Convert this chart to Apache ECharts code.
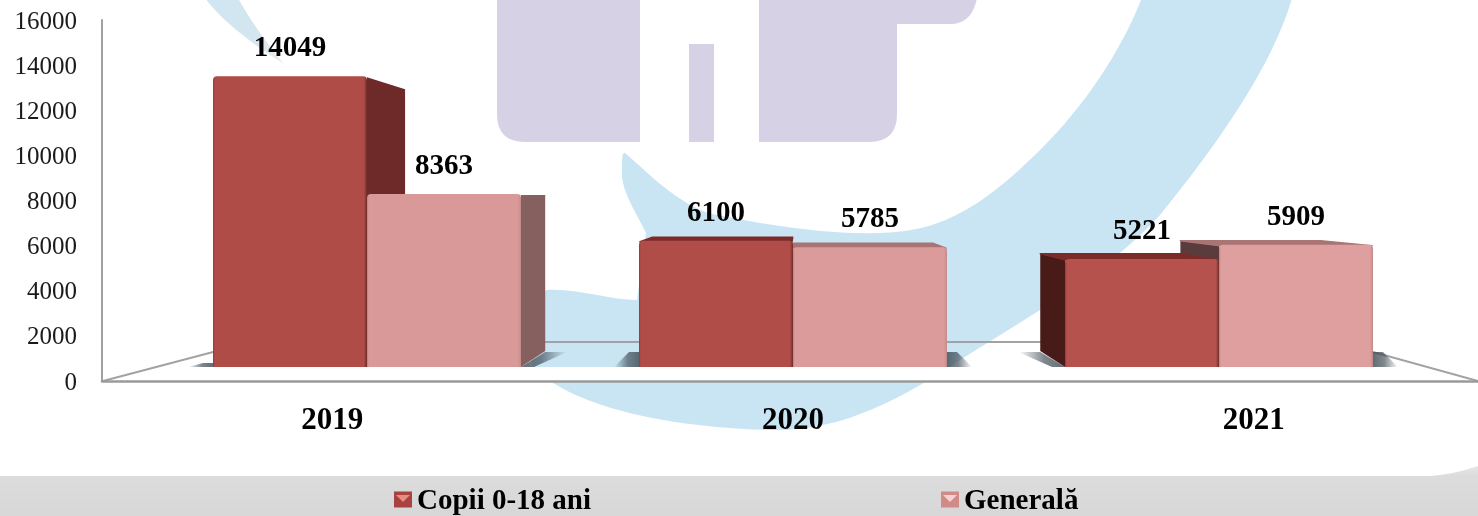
<!DOCTYPE html>
<html>
<head>
<meta charset="utf-8">
<style>html,body{margin:0;padding:0;background:#fff;}#c{width:1478px;height:516px;}</style>
<script src="https://cdn.jsdelivr.net/npm/echarts@6/dist/echarts.min.js"></script>
</head>
<body>
<div id="c"></div>
<script>
const categories = ['2019', '2020', '2021'];
const copii = [14049, 6100, 5221];
const generala = [8363, 5785, 5909];
const seriesNames = ['Copii 0-18 ani', 'Generală'];
const copiiTones = ['#b04c47', '#b14d48', '#b6524d'];
const generalaTones = ['#d99998', '#dc9b9b', '#e09f9f'];

const SERIF = '"Liberation Serif","Times New Roman",serif';
const VX = 790, KX = 0.09, VY = 206, KY = 0.1;      // vanishing point of the box depth
const BAR_W = 154;
const back = (x, y) => [x + KX * (VX - x), y + KY * (VY - y)];

const depthStyle = [
  { top: '#7c2b29', right: '#6d2a28', left: '#491b18' },
  { top: '#a87474', right: '#865f5f', left: '#5a3c3c' }
];

function shadow(xEdge, y0, dir, outward, h) {
  const b = back(xEdge, y0)[0];
  const xs = outward ? b : xEdge;
  const topY = y0 - h;
  const pts = outward
    ? [[xEdge, y0], [xs, topY], [xs + dir * 22, topY], [xEdge + dir * 13, y0]]
    : [[xEdge, y0], [xEdge, topY], [xEdge + dir * 10, topY], [xEdge + dir * 25, y0]];
  const x0 = dir > 0 ? 0 : 1;
  return {
    type: 'polygon', shape: { points: pts },
    style: { fill: { type: 'linear', x: x0, y: 0, x2: 1 - x0, y2: 0, colorStops: [
      { offset: 0, color: 'rgba(60,72,82,0.8)' }, { offset: 0.45, color: 'rgba(60,72,82,0.65)' }, { offset: 1, color: 'rgba(60,72,82,0)' }] } }
  };
}

function depthItem(idx) {
  return function (params, api) {
    const cat = api.value(0), val = api.value(1);
    const c = api.coord([cat, val]);
    const base = api.coord([cat, 0]);
    const w = api.size([1, 0])[0] * (BAR_W / 426);
    const xL = idx === 0 ? c[0] - w : c[0];
    const xR = xL + w;
    const yT = c[1], y0 = base[1];
    const s = depthStyle[idx];
    const tlb = back(xL, yT), trb = back(xR, yT), blb = back(xL, y0), brb = back(xR, y0);
    const ch = [];
    if (idx === 0) {
      ch.push(shadow(xL, y0, -1, blb[0] < xL, cat === 0 ? 4 : 15));
    } else {
      ch.push(shadow(xR, y0, 1, brb[0] > xR, 15));
    }
    if (trb[0] > xR) {
      ch.push({ type: 'polygon', shape: { points: [[xR, yT + 1], trb, brb, [xR, y0]] }, style: { fill: s.right } });
    }
    if (tlb[0] < xL) {
      ch.push({ type: 'polygon', shape: { points: [[xL, yT + 1], tlb, blb, [xL, y0]] }, style: { fill: s.left } });
    }
    if (trb[1] < yT) {
      ch.push({ type: 'polygon', shape: { points: [[xL + 1, yT + 1], [xR - 1, yT + 1], trb, tlb] },
        style: { fill: s.top, stroke: s.top, lineWidth: 1.5, lineJoin: 'round' } });
    }
    return { type: 'group', children: ch };
  };
}

function backgroundItem() {
  const lav = '#d6d1e5';
  const p = (d, fill) => ({ type: 'path', shape: { pathData: d }, style: { fill } });
  return { type: 'group', children: [
    p('M625,153 C640,165 672,200 708,213 C760,224 850,240 911,230 C960,222 1000,190 1043,147 C1085,105 1122,50 1143,-5 L1293,-5 C1275,60 1225,135 1160,215 C1110,270 1040,310 960,360 C900,400 840,432 770,430 C680,428 575,410 533,367 L522,330 C530,300 540,292 547,290 C575,288 610,300 637,300 L646,233 C638,215 620,190 622,170 C622,158 622,152 625,153 Z', '#c9e5f4'),
    p('M205,-2 L238,-2 C250,20 268,45 284,64 C262,50 225,25 205,-2 Z', { type: 'linear', x: 0, y: 0, x2: 1, y2: 1, colorStops: [
      { offset: 0, color: '#cfe6f3' }, { offset: 0.6, color: '#d4e6ef' }, { offset: 1, color: '#ececec' }] }),
    p('M497,-2 H640 V142 H525 Q497,142 497,114 Z', lav),
    { type: 'rect', shape: { x: 689, y: 44, width: 25, height: 98 }, style: { fill: lav } },
    p('M759,-2 H977 Q972,24 950,24 H897 V114 Q897,142 869,142 H759 Z', lav),
    p('M0,476 H1430 Q1455,474 1478,466 V516 H0 Z', { type: 'linear', x: 0, y: 0, x2: 0, y2: 1, colorStops: [
      { offset: 0, color: '#e6e6e6' }, { offset: 0.2, color: '#dcdcdc' }, { offset: 1, color: '#d7d7d7' }] })
  ] };
}

const barGrad = (edgeL, main, edgeR) => ({
  type: 'linear', x: 0, y: 0, x2: 1, y2: 0,
  colorStops: [
    { offset: 0, color: edgeL }, { offset: 0.012, color: main },
    { offset: 0.98, color: main }, { offset: 1, color: edgeR }
  ]
});
const barData = (vals, tones, edgeL, edgeR) => vals.map((v, i) => ({
  value: v, itemStyle: { color: barGrad(edgeL, tones[i], edgeR) }
}));
const barLabel = { show: true, position: 'top', distance: 13, fontFamily: SERIF, fontWeight: 'bold', fontSize: 29, color: '#000' };

const chart = echarts.init(document.getElementById('c'), null, { renderer: 'canvas' });
chart.setOption({
  animation: false,
  backgroundColor: '#ffffff',
  grid: [
    { left: 102, top: 20, width: 1382, height: 361, outerBoundsMode: 'none' },
    { left: 154, top: 35.8, width: 1278, height: 331.2, outerBoundsMode: 'none' }
  ],
  xAxis: [
    { type: 'category', gridIndex: 0, data: categories,
      axisLine: { lineStyle: { color: '#9a9a9a', width: 2.5 } }, axisTick: { show: false },
      axisLabel: { margin: 24, fontFamily: SERIF, fontWeight: 'bold', fontSize: 31, color: '#000' } },
    { type: 'category', gridIndex: 1, data: categories, show: false }
  ],
  yAxis: [
    { type: 'value', gridIndex: 0, min: 0, max: 16000, interval: 2000,
      axisLine: { show: true, lineStyle: { color: '#a0a0a0', width: 2 } }, axisTick: { show: false }, splitLine: { show: false },
      axisLabel: { margin: 25, formatter: v => '{t|' + v + '}', rich: { t: { padding: [4, 0, 0, 0], fontFamily: SERIF, fontSize: 25, color: '#1a1a1a' } } } },
    { type: 'value', gridIndex: 1, min: 0, max: 16000, show: false, splitLine: { show: false } }
  ],
  legend: {
    data: [
      { name: seriesNames[0], itemStyle: { color: '#a9433f' } },
      { name: seriesNames[1], itemStyle: { color: '#d08a88' } }
    ],
    left: 394, top: 487, padding: 0, itemWidth: 18, itemHeight: 16, itemGap: 350,
    icon: 'rect', selectedMode: false, formatter: '{t|{name}}',
    textStyle: { rich: { t: { padding: [4, 0, 0, 0], fontFamily: SERIF, fontWeight: 'bold', fontSize: 29, color: '#000' } } }
  },
  graphic: [
    { type: 'polygon', z: -15, silent: true, shape: { points: [[156,367],[1427,367],[1478,381],[103,381]] }, style: { fill: '#ffffff' } },
    { type: 'polyline', z: -14, silent: true, shape: { points: [[103,381],[251,342],[1337,342],[1478,381]] },
      style: { fill: 'none', stroke: '#a2a2a2', lineWidth: 2 } },
    { type: 'polygon', z: 50, silent: true, shape: { points: [[396,495],[410,495],[403,502]] }, style: { fill: '#e88c85' } },
    { type: 'polygon', z: 50, silent: true, shape: { points: [[943,495],[957,495],[950,502]] }, style: { fill: '#f6d2d2' } }
  ],
  series: [
    { type: 'custom', coordinateSystem: 'none', silent: true, z: -20, data: [0], renderItem: backgroundItem },
    { type: 'custom', xAxisIndex: 1, yAxisIndex: 1, silent: true, z: 1, clip: false,
      data: generala.map((v, i) => [i, v]), encode: { x: 0, y: 1 }, renderItem: depthItem(1) },
    { type: 'custom', xAxisIndex: 1, yAxisIndex: 1, silent: true, z: 1.5, clip: false,
      data: copii.map((v, i) => [i, v]), encode: { x: 0, y: 1 }, renderItem: depthItem(0) },
    { name: seriesNames[0], type: 'bar', xAxisIndex: 1, yAxisIndex: 1, z: 3, barWidth: BAR_W, barGap: 0,
      data: barData(copii, copiiTones, '#8f3a37', '#6e2c2a'),
      itemStyle: { color: '#b04c47', borderRadius: [4, 4, 0, 0] }, label: barLabel },
    { name: seriesNames[1], type: 'bar', xAxisIndex: 1, yAxisIndex: 1, z: 3, barWidth: BAR_W, barGap: 0,
      data: barData(generala, generalaTones, '#b98080', '#c08a8a'),
      itemStyle: { color: '#dc9b9b', borderRadius: [4, 4, 0, 0] }, label: barLabel }
  ]
});
</script>
</body>
</html>
